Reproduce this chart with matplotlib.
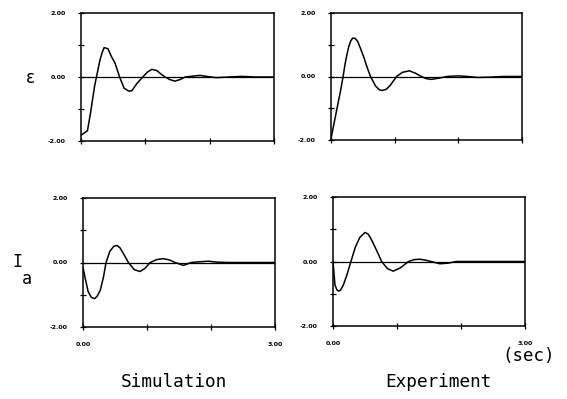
import matplotlib
matplotlib.use("Agg")
import matplotlib.pyplot as plt

# ---- data ----
eps_sim_t = [0, 0.05, 0.1, 0.15, 0.21, 0.24, 0.295, 0.33, 0.36, 0.42, 0.47, 0.53, 0.6, 0.67,
             0.74, 0.79, 0.87, 0.96, 1.03, 1.10, 1.18, 1.25, 1.31, 1.38, 1.46, 1.54, 1.62,
             1.75, 1.85, 1.95, 2.1, 2.3, 2.5, 2.7, 3.0]
eps_sim_v = [-1.82, -1.75, -1.68, -1.1, -0.3, 0.0, 0.53, 0.77, 0.92, 0.88, 0.65, 0.43, 0.0, -0.35,
             -0.44, -0.43, -0.2, 0.0, 0.15, 0.24, 0.2, 0.08, 0.0, -0.08, -0.13, -0.08, 0.0,
             0.03, 0.05, 0.02, -0.02, 0.0, 0.02, 0.0, 0.0]

eps_exp_t = [0, 0.05, 0.1, 0.15, 0.19, 0.22, 0.25, 0.28, 0.31, 0.34, 0.38, 0.42, 0.46, 0.51, 0.56,
             0.62, 0.7, 0.76, 0.81, 0.87, 0.93, 1.03, 1.12, 1.23, 1.33, 1.42, 1.5, 1.58, 1.7,
             1.82, 2.0, 2.15, 2.3, 2.5, 2.7, 3.0]
eps_exp_v = [-1.97, -1.45, -0.95, -0.45, 0.0, 0.38, 0.69, 0.95, 1.12, 1.21, 1.2, 1.1, 0.9, 0.64, 0.33,
             0.0, -0.3, -0.42, -0.44, -0.4, -0.28, 0.0, 0.13, 0.18, 0.1, 0.0, -0.07, -0.09, -0.05,
             0.0, 0.02, 0.0, -0.03, -0.02, 0.0, 0.0]

ia_sim_t = [0, 0.03, 0.08, 0.13, 0.18, 0.22, 0.27, 0.32, 0.36, 0.42, 0.48, 0.53, 0.58, 0.63,
            0.71, 0.8, 0.89, 0.97, 1.05, 1.15, 1.25, 1.35, 1.44, 1.57, 1.69, 1.8, 1.96, 2.1,
            2.3, 2.6, 3.0]
ia_sim_v = [-0.15, -0.45, -0.9, -1.08, -1.12, -1.05, -0.86, -0.45, 0.0, 0.35, 0.5, 0.53, 0.45, 0.28,
            0.0, -0.22, -0.28, -0.18, 0.0, 0.09, 0.12, 0.08, 0.0, -0.09, 0.0, 0.02, 0.04, 0.01,
            0.0, 0.0, 0.0]

ia_exp_t = [0, 0.03, 0.06, 0.09, 0.12, 0.16, 0.22, 0.28, 0.35, 0.42, 0.5, 0.55, 0.6, 0.68,
            0.76, 0.85, 0.94, 1.05, 1.18, 1.27, 1.36, 1.45, 1.53, 1.67, 1.8, 1.93, 2.2, 2.6, 3.0]
ia_exp_v = [0.0, -0.72, -0.88, -0.92, -0.88, -0.74, -0.4, 0.0, 0.45, 0.75, 0.9, 0.85, 0.68, 0.35,
            0.0, -0.22, -0.30, -0.2, 0.0, 0.06, 0.07, 0.04, 0.0, -0.07, -0.05, 0.0, 0.0, 0.0, 0.0]

y_ticks = [-2, -1, 0, 1, 2]
y_ticklabels = ["-2.00", "", "0.00", "", "2.00"]
x_ticks = [0, 1, 2, 3]
x_ticklabels = ["0.00", "", "", "3.00"]

W, H = 567, 399
fig = plt.figure(figsize=(W / 100, H / 100), dpi=100)


def px_axes(l, t, r, b):
    return fig.add_axes([l / W, 1 - b / H, (r - l) / W, (b - t) / H])


panels = [
    (px_axes(81, 13, 274, 141), eps_sim_t, eps_sim_v, False),
    (px_axes(331, 13, 522, 140), eps_exp_t, eps_exp_v, False),
    (px_axes(83, 198, 275, 327), ia_sim_t, ia_sim_v, True),
    (px_axes(333, 197, 525, 326), ia_exp_t, ia_exp_v, True),
]

for ax, t, v, show_x in panels:
    ax.plot(t, v, color="black", lw=1.1)
    ax.axhline(0, color="black", lw=0.9)
    ax.set_xlim(0, 3)
    ax.set_ylim(-2, 2)
    ax.set_yticks(y_ticks)
    ax.set_yticklabels(y_ticklabels, fontsize=4.5, fontweight="bold")
    ax.set_xticks(x_ticks)
    if show_x:
        ax.set_xticklabels(x_ticklabels, fontsize=4.5, fontweight="bold")
    else:
        ax.set_xticklabels([])
    ax.tick_params(axis="both", direction="inout", length=4, width=0.9, pad=9)
    for s in ax.spines.values():
        s.set_linewidth(1.1)

mono = "DejaVu Sans Mono"
fig.text(30 / W, 1 - 78 / H, "ε", fontsize=12, ha="center", va="center")
fig.text(17 / W, 1 - 262 / H, "I", fontsize=12, family=mono, ha="center", va="center")
fig.text(27 / W, 1 - 279 / H, "a", fontsize=12, family=mono, ha="center", va="center")
fig.text(174 / W, 1 - 382 / H, "Simulation", fontsize=12.8, family=mono, ha="center", va="center")
fig.text(438 / W, 1 - 382 / H, "Experiment", fontsize=12.8, family=mono, ha="center", va="center")
fig.text(529 / W, 1 - 356 / H, "(sec)", fontsize=12.5, family=mono, ha="center", va="center")

fig.savefig("out.png", dpi=100)
